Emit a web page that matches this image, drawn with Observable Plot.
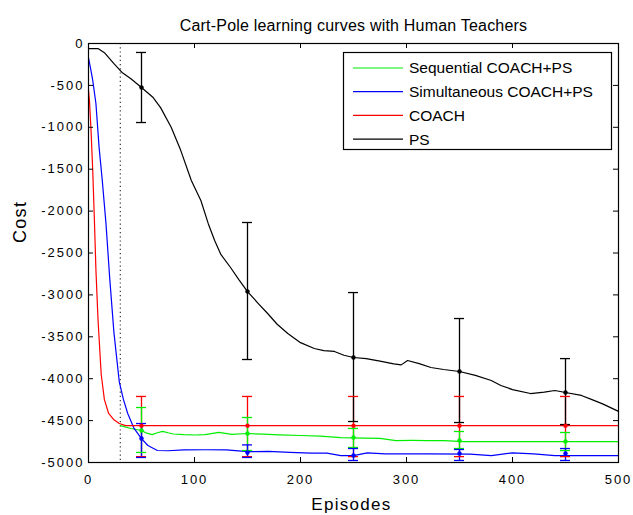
<!DOCTYPE html>
<html><head><meta charset="utf-8">
<script src="https://cdn.jsdelivr.net/npm/d3@7"></script>
<script src="https://cdn.jsdelivr.net/npm/@observablehq/plot@0.6"></script>
<style>
body{margin:0;background:#fff}
svg{display:block}
</style>
</head><body><div id="chart"></div>
<script>
const title = "Cart-Pole learning curves with Human Teachers";
const xLabel = "Episodes";
const yLabel = "Cost";
const seriesNames = ["Sequential COACH+PS", "Simultaneous COACH+PS", "COACH", "PS"];
const seriesColors = ["#00ee00", "#0000ff", "#ff0000", "#000000"];
const xTicks = [0, 100, 200, 300, 400, 500];
const yTicks = [0, -500, -1000, -1500, -2000, -2500, -3000, -3500, -4000, -4500, -5000];
const markerEpisode = 30;

// Sequential COACH+PS (green)
const seqEp   = [30, 40, 50, 55, 60, 65, 70, 75, 80, 90, 100, 110, 123, 135, 150, 165, 180, 200, 219, 238, 260, 275, 290, 305, 320, 335, 354, 380, 420, 460, 500];
const seqCost = [-4560, -4594, -4618, -4650, -4668, -4645, -4628, -4645, -4660, -4668, -4672, -4668, -4640, -4665, -4654, -4662, -4670, -4678, -4686, -4702, -4710, -4712, -4738, -4736, -4738, -4740, -4750, -4750, -4750, -4750, -4750];

// Simultaneous COACH+PS (blue)
const simEp   = [0, 2, 4, 7, 10, 13, 16.5, 20, 24, 29, 33, 37, 43, 50, 56, 65, 75, 90, 110, 130, 150, 170, 190, 210, 225, 238, 250, 263, 280, 320, 360, 380, 400, 420, 440, 470, 500];
const simCost = [-170, -300, -440, -716, -1240, -1635, -2150, -2800, -3450, -4034, -4250, -4415, -4594, -4714, -4797, -4857, -4860, -4850, -4848, -4850, -4870, -4868, -4880, -4889, -4889, -4917, -4917, -4885, -4897, -4897, -4900, -4917, -4885, -4897, -4917, -4917, -4917];

// COACH (red)
const coachEp   = [0, 1, 2.4, 4, 5.5, 7, 9, 12, 15, 19, 24, 29, 35, 500];
const coachCost = [-560, -700, -1040, -1515, -2080, -2700, -3300, -3950, -4250, -4415, -4490, -4535, -4560, -4560];

// PS (black)
const psEp   = [0, 9, 15, 24, 32, 40, 50, 61, 68, 78, 87, 97, 106, 113, 119, 125, 134, 142, 150, 160, 169, 178, 188, 200, 213, 222, 232, 241, 250, 262, 275, 288, 295, 301, 312, 323, 335, 350, 365, 380, 389, 400, 417, 430, 440, 450, 465, 475, 485, 500];
const psCost = [-60, -60, -110, -240, -350, -420, -525, -645, -765, -1000, -1275, -1635, -1873, -2150, -2351, -2520, -2673, -2820, -2960, -3100, -3222, -3350, -3460, -3570, -3640, -3665, -3675, -3720, -3747, -3760, -3790, -3823, -3835, -3783, -3820, -3866, -3890, -3914, -3960, -4021, -4081, -4130, -4177, -4160, -4141, -4165, -4200, -4250, -4300, -4390];

// error bars at these episodes
const errEp = [50, 150, 250, 350, 450];
const seqMean = [-4618, -4654, -4702, -4738, -4750];
const seqLo   = [-4880, -4857, -4821, -4833, -4857];
const seqHi   = [-4344, -4463, -4594, -4630, -4642];
const simMean = [-4714, -4881, -4917, -4893, -4893];
const simLo   = [-4940, -4940, -4976, -4976, -4976];
const simHi   = [-4535, -4790, -4833, -4845, -4833];
const coachMean = [-4560, -4560, -4560, -4560, -4560];
const coachLo   = [-4930, -4930, -4930, -4930, -4930];
const coachHi   = [-4212, -4212, -4212, -4212, -4212];
const psMean = [-525, -2960, -3747, -3914, -4165];
const psLo   = [-943, -3771, -4511, -4523, -4547];
const psHi   = [-107, -2136, -2972, -3282, -3760];

const lineSets = [[seqEp, seqCost], [simEp, simCost], [coachEp, coachCost], [psEp, psCost]];
const lineRows = [];
lineSets.forEach(([E, C], i) => E.forEach((e, j) => lineRows.push({series: seriesNames[i], ep: e, cost: C[j]})));

const errSets = {
  [seriesNames[0]]: [seqMean, seqLo, seqHi],
  [seriesNames[1]]: [simMean, simLo, simHi],
  [seriesNames[2]]: [coachMean, coachLo, coachHi],
  [seriesNames[3]]: [psMean, psLo, psHi]
};
const errOrder = [seriesNames[2], seriesNames[0], seriesNames[1], seriesNames[3]];
const errRows = [];
errOrder.forEach(s => {
  const [M, L, H] = errSets[s];
  errEp.forEach((e, j) => errRows.push({series: s, ep: e, mean: M[j], lo: L[j], hi: H[j]}));
});

const W = 633, H = 515, mL = 88, mR = 15, mT = 43, mB = 53;
const fw = W - mL - mR, fh = H - mT - mB;
const capHalf = 4.7; // episodes
const font = "'Liberation Sans', Arial, Helvetica, sans-serif";

const plot = Plot.plot({
  width: W, height: H,
  marginLeft: mL, marginRight: mR, marginTop: mT, marginBottom: mB,
  style: {fontFamily: font, fontSize: "13px", background: "white", color: "black"},
  x: {domain: [0, 500]},
  y: {domain: [-5000, 0]},
  color: {domain: seriesNames, range: seriesColors},
  marks: [
    Plot.ruleX([markerEpisode], {stroke: "#333", strokeWidth: 1.2, strokeDasharray: "1.2,3"}),
    Plot.line(lineRows, {x: "ep", y: "cost", z: "series", stroke: "series", strokeWidth: 1.2}),
    Plot.ruleX(errRows, {x: "ep", y1: "lo", y2: "hi", stroke: "series", strokeWidth: 1.3}),
    Plot.ruleY(errRows, {y: "lo", x1: d => d.ep - capHalf, x2: d => d.ep + capHalf, stroke: "series", strokeWidth: 1.3}),
    Plot.ruleY(errRows, {y: "hi", x1: d => d.ep - capHalf, x2: d => d.ep + capHalf, stroke: "series", strokeWidth: 1.3}),
    Plot.dot(errRows, {x: "ep", y: "mean", fill: "series", r: 2.2}),
    Plot.tickY(yTicks, {y: d => d, insetRight: fw - 5, stroke: "black"}),
    Plot.tickY(yTicks, {y: d => d, insetLeft: fw - 5, stroke: "black"}),
    Plot.tickX(xTicks, {x: d => d, insetTop: fh - 5, stroke: "black"}),
    Plot.tickX(xTicks, {x: d => d, insetBottom: fh - 5, stroke: "black"}),
    Plot.frame({stroke: "black", strokeWidth: 1.2}),
    Plot.axisX({ticks: xTicks, tickSize: 0, tickPadding: 12, tickFormat: d => String(d), label: null}),
    Plot.axisY({ticks: yTicks, tickSize: 0, tickPadding: 4, tickFormat: d => String(d), label: null}),
    Plot.text([title], {frameAnchor: "top", dy: -13, lineAnchor: "bottom", fontSize: 16, text: d => d}),
    Plot.text([xLabel], {frameAnchor: "bottom", dy: 47, dx: -2, lineAnchor: "bottom", fontSize: 17, text: d => d}),
    Plot.text([yLabel], {frameAnchor: "left", dx: -63, dy: -10, rotate: -90, lineAnchor: "bottom", fontSize: 18, text: d => d})
  ]
});

const svg = d3.select(plot);
svg.selectAll('[aria-label="x-axis tick label"] text, [aria-label="y-axis tick label"] text')
  .style("letter-spacing", "2px");
svg.selectAll('[aria-label="text"] text').each(function() {
  const t = this.textContent;
  if (t === title) d3.select(this).style("letter-spacing", "0.2px");
  else d3.select(this).style("letter-spacing", "1.3px");
});

// legend box
const lg = svg.append("g").attr("font-family", font).attr("font-size", 15.5).attr("text-anchor", "start");
lg.append("rect").attr("x", 343.5).attr("y", 52.5).attr("width", 268).attr("height", 97)
  .attr("fill", "white").attr("stroke", "black").attr("stroke-width", 1.2);
seriesNames.forEach((name, i) => {
  const y = 68 + i * 23.7;
  lg.append("line").attr("x1", 353).attr("x2", 403).attr("y1", y).attr("y2", y)
    .attr("stroke", seriesColors[i]).attr("stroke-width", 1.2);
  lg.append("text").attr("x", 409).attr("y", y).attr("dy", "0.35em").attr("text-anchor", "start").text(name);
});

document.getElementById("chart").appendChild(plot);
</script>
</body></html>
